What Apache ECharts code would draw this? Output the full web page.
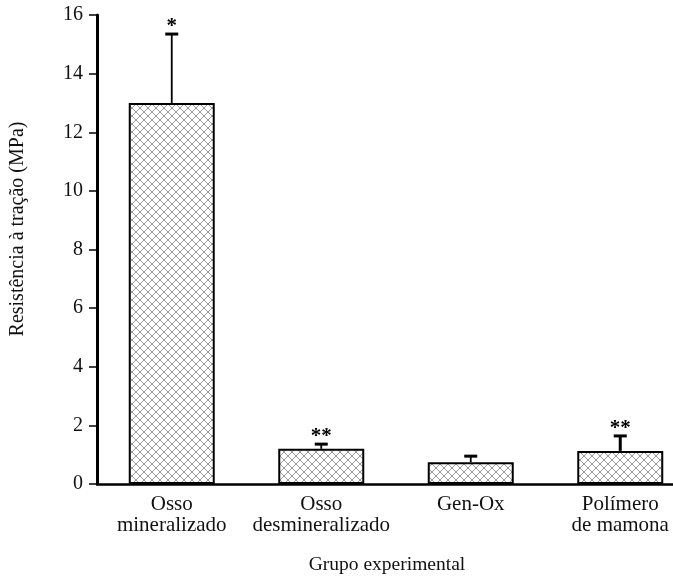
<!DOCTYPE html>
<html>
<head>
<meta charset="utf-8">
<script src="https://cdn.jsdelivr.net/npm/echarts@6/dist/echarts.min.js"></script>
<style>
  html, body { margin: 0; padding: 0; background: #fff; }
  #chart { width: 673px; height: 576px; }
</style>
</head>
<body>
<div id="chart"></div>
<script>
const categories = ['Osso\nmineralizado', 'Osso\ndesmineralizado', 'Gen-Ox', 'Polímero\nde mamona'];
const means = [13.0, 1.2, 0.74, 1.13];
const errorTops = [15.35, 1.36, 0.95, 1.64];
const marks = ['*', '**', '', '**'];
const yTicks = [0, 2, 4, 6, 8, 10, 12, 14, 16];

const FONT = '"Liberation Serif", "DejaVu Serif", serif';

// hachura cruzada
function makeHatch() {
  const c = document.createElement('canvas');
  c.width = 8;
  c.height = 8;
  const ctx = c.getContext('2d');
  ctx.fillStyle = '#fff';
  ctx.fillRect(0, 0, 8, 8);
  ctx.strokeStyle = '#999';
  ctx.lineWidth = 1;
  ctx.beginPath();
  ctx.moveTo(0, 0); ctx.lineTo(8, 8);
  ctx.moveTo(8, 0); ctx.lineTo(0, 8);
  ctx.stroke();
  return c;
}

const chart = echarts.init(document.getElementById('chart'), null, { renderer: 'canvas' });

const option = {
  animation: false,
  backgroundColor: '#fff',
  grid: { left: 97, right: -22, top: 15, bottom: 92, outerBoundsMode: 'none', containLabel: false },
  graphic: [
    {
      type: 'text',
      x: 18,
      y: 229,
      rotation: Math.PI / 2,
      style: {
        text: 'Resistência à tração (MPa)',
        font: '20px ' + FONT,
        fill: '#111',
        align: 'center',
        verticalAlign: 'middle'
      }
    },
    {
      type: 'text',
      x: 387,
      y: 565,
      style: {
        text: 'Grupo experimental',
        font: '19.5px ' + FONT,
        fill: '#111',
        align: 'center',
        verticalAlign: 'middle'
      }
    }
  ],
  xAxis: {
    type: 'category',
    data: categories,
    axisLine: { lineStyle: { color: '#000', width: 2.5 } },
    axisTick: { alignWithLabel: true, length: 8, lineStyle: { color: '#000', width: 2 } },
    axisLabel: { interval: 0, fontFamily: FONT, fontSize: 21, color: '#111', lineHeight: 21, margin: 10 }
  },
  yAxis: {
    type: 'value',
    min: 0,
    max: 16,
    interval: 2,
    axisLine: { show: true, lineStyle: { color: '#000', width: 3 } },
    axisTick: { show: true, length: 8, lineStyle: { color: '#000', width: 1.5 } },
    axisLabel: {
      fontFamily: FONT, fontSize: 20, color: '#111', margin: 14,
      formatter: v => (yTicks.indexOf(v) >= 0 ? String(v) : '')
    },
    splitLine: { show: false }
  },
  series: [
    {
      type: 'bar',
      data: means,
      barWidth: 86,
      itemStyle: {
        color: { image: makeHatch(), repeat: 'repeat' },
        borderColor: '#000',
        borderWidth: 2
      },
      z: 2
    },
    {
      type: 'custom',
      data: means.map((m, i) => [i, m, errorTops[i]]),
      z: 3,
      renderItem: (params, api) => {
        const i = api.value(0);
        const base = api.coord([i, api.value(1)]);
        const top = api.coord([i, api.value(2)]);
        const x = base[0];
        const thick = i === 3 ? 3 : 1.8;
        return {
          type: 'group',
          children: [
            {
              type: 'line',
              shape: { x1: x, y1: base[1], x2: x, y2: top[1] },
              style: { stroke: '#000', lineWidth: thick }
            },
            {
              type: 'line',
              shape: { x1: x - 6.5, y1: top[1], x2: x + 6.5, y2: top[1] },
              style: { stroke: '#000', lineWidth: 3 }
            },
            {
              type: 'text',
              style: {
                x: x,
                y: top[1] + 3,
                text: marks[i],
                align: 'center',
                verticalAlign: 'bottom',
                font: 'bold 21px ' + FONT,
                fill: '#000'
              }
            }
          ]
        };
      }
    }
  ]
};

chart.setOption(option);
</script>
</body>
</html>
